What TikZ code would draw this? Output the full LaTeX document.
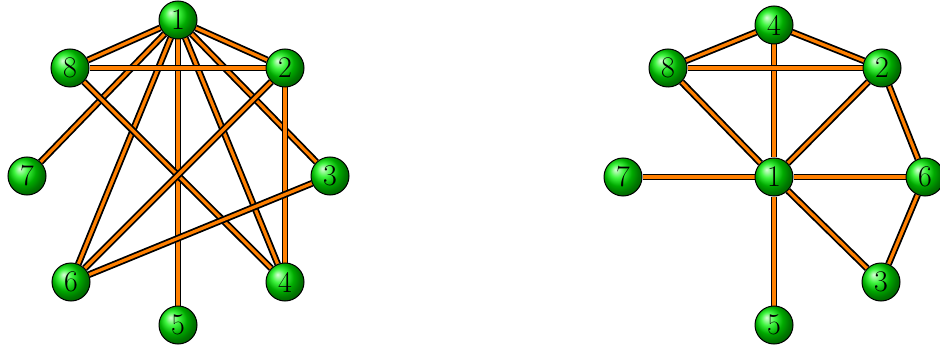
\documentclass[tikz,border=0pt]{standalone}
\usetikzlibrary{backgrounds}
\definecolor{edgeorange}{RGB}{255,128,0}
\tikzset{
  vtx/.style={circle, draw=black, line width=0.5pt, ball color=green!95!black, minimum size=19pt, inner sep=0pt, font=\fontsize{15}{15}\selectfont},
  edge/.style={draw=black, line width=0.9pt, double=edgeorange, double distance=1.6pt}
}
\begin{document}
\begin{tikzpicture}[x=0.5pt, y=-0.5pt]
\useasboundingbox (0,0) rectangle (940,347);
% left graph
\node[vtx] (a1) at (178,20) {1};
\node[vtx] (a8) at (70,68) {8};
\node[vtx] (a2) at (285,68) {2};
\node[vtx] (a7) at (27,176) {7};
\node[vtx] (a3) at (330,176) {3};
\node[vtx] (a6) at (71,282) {6};
\node[vtx] (a4) at (285,282) {4};
\node[vtx] (a5) at (178,325) {5};
% right graph
\node[vtx] (b4) at (774,25) {4};
\node[vtx] (b8) at (668,68) {8};
\node[vtx] (b2) at (882,68) {2};
\node[vtx] (b7) at (623,177) {7};
\node[vtx] (b1) at (774,177) {1};
\node[vtx] (b6) at (925,177) {6};
\node[vtx] (b3) at (881,282) {3};
\node[vtx] (b5) at (774,325) {5};
\begin{scope}[on background layer]
\foreach \u/\v in {a1/a8,a1/a2,a1/a7,a1/a6,a1/a5,a1/a4,a1/a3,a8/a2,a8/a4,a2/a6,a2/a4,a6/a3,
                   b4/b8,b4/b2,b4/b1,b8/b2,b8/b1,b2/b1,b2/b6,b7/b1,b1/b6,b1/b3,b1/b5,b6/b3}
  \path[edge] (\u) -- (\v);
\end{scope}
\end{tikzpicture}
\end{document}
